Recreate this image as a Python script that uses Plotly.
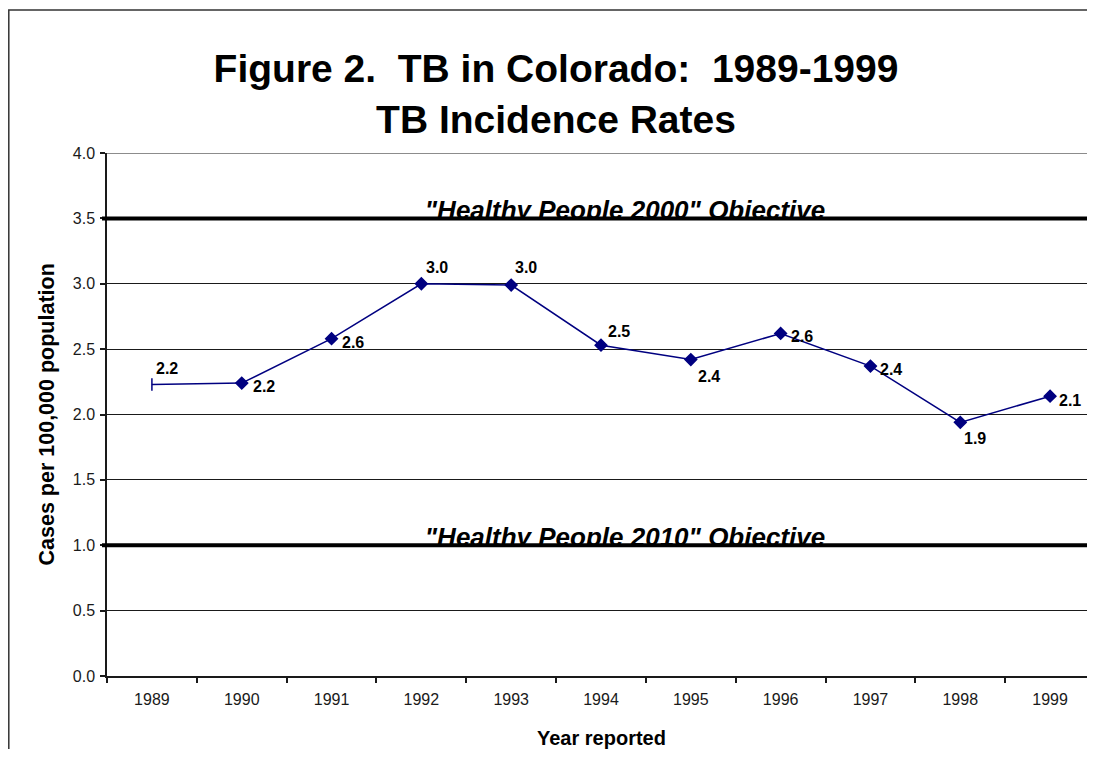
import plotly.graph_objects as go

# ---- data ----
years = [1989, 1990, 1991, 1992, 1993, 1994, 1995, 1996, 1997, 1998, 1999]
rates = [2.23, 2.24, 2.58, 3.00, 2.99, 2.53, 2.42, 2.62, 2.37, 1.94, 2.14]
objective_values = [3.5, 1.0]
objective_labels = ['"Healthy People 2000" Objective', '"Healthy People 2010" Objective']
y_ticks = [0.0, 0.5, 1.0, 1.5, 2.0, 2.5, 3.0, 3.5, 4.0]

# ---- layout constants (page pixels; the page body has an 8px margin) ----
OFF = 8
W, H = 1095 - OFF, 757 - 2 * OFF
PLOT_L, PLOT_T, PLOT_B = 107, 153, 676          # page coordinates of plot area
ML = PLOT_L - OFF
MT = PLOT_T - OFF
MB = H - (PLOT_B - OFF)
MR = 0
PW = W - ML - MR
PH = H - MT - MB
FONT = "Liberation Sans, Arial, sans-serif"
NAVY = "#000080"
INK = "#1a1a1a"


def px_x(p):
    return (p - OFF - ML) / PW


def px_y(p):
    return (H - MB - (p - OFF)) / PH


# label offsets in pixels (dx right, dy down) per point
label_offsets = [(15, -16), (22, 3), (21, 4), (16, -16), (15, -18), (18, -14),
                 (18, 17), (21, 3), (21, 3), (15, 16), (20, 4)]
marker_symbols = ["line-ns-open"] + ["diamond"] * (len(years) - 1)
objective_text_x = 1988.5 + (625 - PLOT_L) / PW * 11
text_drop = 7 * 4.0 / PH   # push objective labels ~7px down so the line cuts them

fig = go.Figure()

fig.add_trace(go.Scatter(
    x=years, y=rates, mode="lines+markers",
    line=dict(color=NAVY, width=1.5),
    marker=dict(symbol=marker_symbols, size=9,
                color=NAVY, line=dict(color=NAVY, width=1.5)),
    showlegend=False,
))

# objective labels (drawn under the objective lines)
fig.add_trace(go.Scatter(
    x=[objective_text_x] * len(objective_values), y=objective_values, yaxis="y2",
    mode="text", text=objective_labels, textposition="top center",
    textfont=dict(family=FONT, size=26, color="black", weight="bold", style="italic"),
    hoverinfo="skip", showlegend=False,
))

annotations = []
for yr, v, (dx, dy) in zip(years, rates, label_offsets):
    annotations.append(dict(
        x=yr, y=v, xref="x", yref="y", text=f"{v:.1f}", showarrow=False,
        xanchor="center", yanchor="middle", xshift=dx, yshift=-dy,
        font=dict(family=FONT, size=16, color="black", weight="bold"),
    ))

annotations.append(dict(
    x=px_x(46), y=px_y((PLOT_T + PLOT_B) / 2), xref="paper", yref="paper",
    text="Cases per 100,000 population",
    textangle=-90, showarrow=False, xanchor="center", yanchor="middle",
    font=dict(family=FONT, size=21.5, color="black", weight="bold"),
))
annotations.append(dict(
    x=0.5, y=px_y(738), xref="paper", yref="paper", text="Year reported",
    showarrow=False, xanchor="center", yanchor="middle",
    font=dict(family=FONT, size=20, color="black", weight="bold"),
))

shapes = []
# outer frame
shapes.append(dict(type="rect", xref="paper", yref="paper",
                   x0=px_x(8.8), x1=px_x(1120), y0=px_y(10), y1=px_y(790),
                   line=dict(color="#333333", width=1.5), layer="below"))
# top gridline at 4.0
shapes.append(dict(type="line", xref="paper", yref="y", x0=0, x1=1, y0=4.0, y1=4.0,
                   line=dict(color=INK, width=1), layer="below"))
for v in objective_values:
    # white mask hiding the descenders of the label under the line
    shapes.append(dict(type="rect", xref="paper", yref="y", ysizemode="pixel", yanchor=v,
                       x0=px_x(420), x1=px_x(830), y0=-1, y1=-10,
                       fillcolor="white", line=dict(width=0), layer="above"))
    shapes.append(dict(type="line", xref="paper", yref="y", x0=px_x(102), x1=px_x(1090),
                       y0=v, y1=v, line=dict(color="black", width=4), layer="above"))

fig.update_layout(
    width=W, height=H,
    margin=dict(l=ML, r=MR, t=MT, b=MB, pad=0),
    paper_bgcolor="white", plot_bgcolor="white",
    font=dict(family=FONT, color=INK),
    title=dict(
        text="Figure 2.\u00a0 TB in Colorado:\u00a0 1989-1999<br>TB Incidence Rates",
        x=(556 - OFF) / W, xref="container", xanchor="center",
        y=1 - 74 / H, yref="container", yanchor="top",
        font=dict(family=FONT, size=39, color="black", weight="bold"),
    ),
    xaxis=dict(
        range=[1988.5, 1999.5], tickmode="array", tickvals=years,
        ticktext=[str(y) for y in years], ticks="", showgrid=False, zeroline=False,
        showline=True, linecolor=INK, linewidth=1.5,
        tickfont=dict(family=FONT, size=16, color=INK), ticklabelstandoff=8,
        minor=dict(tickmode="array", tickvals=[y - 0.5 for y in years] + [1999.5],
                   ticks="outside", ticklen=5, tickcolor=INK, tickwidth=1.5, showgrid=False),
        fixedrange=True,
    ),
    yaxis=dict(
        range=[0, 4], tickmode="array", tickvals=y_ticks, tickformat=".1f",
        ticks="outside", ticklen=5, tickcolor=INK, tickwidth=1.5,
        showgrid=True, gridcolor=INK, gridwidth=1, zeroline=False,
        showline=True, linecolor=INK, linewidth=1.5,
        tickfont=dict(family=FONT, size=16, color=INK), ticklabelstandoff=2,
        fixedrange=True,
    ),
    yaxis2=dict(overlaying="y", range=[text_drop, 4 + text_drop], visible=False,
                fixedrange=True),
    annotations=annotations,
    shapes=shapes,
)

fig.write_html("out.html")
